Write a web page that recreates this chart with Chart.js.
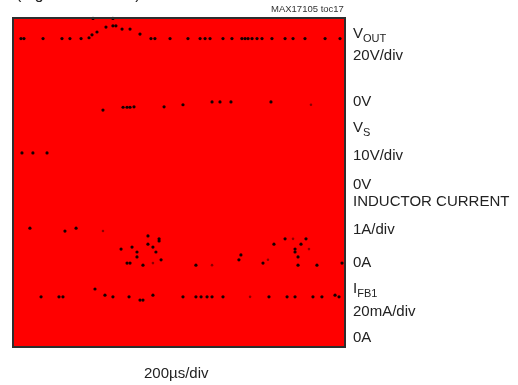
<!DOCTYPE html>
<html>
<head>
<meta charset="utf-8">
<script src="https://cdn.jsdelivr.net/npm/chart.js@4.4.1/dist/chart.umd.min.js"></script>
<style>
  html, body { margin: 0; padding: 0; background: #ffffff; }
  #wrap { position: relative; width: 518px; height: 385px; overflow: hidden; }
  canvas { position: absolute; left: 0; top: 0; }
  .lbl { position: absolute; font-family: "Liberation Sans", Arial, sans-serif; font-size: 15px;
         line-height: 17px; color: #222; white-space: nowrap; }
  .lbl sub { font-size: 11px; vertical-align: baseline; position: relative; top: 4px; }
  .small { font-size: 9.5px; line-height: 11px; color: #333; }
</style>
</head>
<body>
<div id="wrap">
  <canvas id="scope" width="518" height="385"></canvas>
  <div class="lbl" style="left:16px; top:-15px; font-size:16px;">(Figure 10 circuit)</div>
  <div class="lbl small" style="left:271px; top:3px;">MAX17105 toc17</div>

  <div class="lbl" style="left:353px; top:24px;">V<sub>OUT</sub></div>
  <div class="lbl" style="left:353px; top:46px;">20V/div</div>
  <div class="lbl" style="left:353px; top:92px;">0V</div>
  <div class="lbl" style="left:353px; top:118px;">V<sub>S</sub></div>
  <div class="lbl" style="left:353px; top:146px;">10V/div</div>
  <div class="lbl" style="left:353px; top:175px;">0V</div>
  <div class="lbl" style="left:353px; top:192px;">INDUCTOR CURRENT</div>
  <div class="lbl" style="left:353px; top:220px;">1A/div</div>
  <div class="lbl" style="left:353px; top:253px;">0A</div>
  <div class="lbl" style="left:353px; top:279px;">I<sub>FB1</sub></div>
  <div class="lbl" style="left:353px; top:302px;">20mA/div</div>
  <div class="lbl" style="left:353px; top:328px;">0A</div>

  <div class="lbl" style="left:144px; top:364px;">200µs/div</div>
</div>

<script>
// Time base: 200 µs/div over 10 divisions; vertical position in screen divisions (0..8)
const timeSpan = [0, 2000];
const divSpan = [0, 8];

// Sampled trace dots: [time µs, vertical divisions]
const voutPoints = [
  [48,7.5],[66,7.5],[181,7.5],[295,7.5],[343,7.5],[410,7.5],
  [458,7.52],[476,7.59],[506,7.66],[560,7.78],[602,7.81],[620,7.81],
  [657,7.73],[705,7.73],[765,7.61],
  [831,7.5],[855,7.5],[946,7.5],[1054,7.5],[1127,7.5],[1157,7.5],[1187,7.5],
  [1265,7.5],[1319,7.5],[1379,7.5],[1398,7.5],[1416,7.5],[1440,7.5],[1470,7.5],
  [1500,7.5],[1560,7.5],[1639,7.5],[1687,7.5],[1759,7.5],[1880,7.5],[1970,7.5],
  [482,7.99],[602,7.99]
];

const vsPoints = [
  [54,4.72],[120,4.72],[205,4.72],
  [542,5.76],[663,5.83],[687,5.83],[705,5.83],[729,5.84],[910,5.84],
  [1024,5.89],[1199,5.96],[1247,5.96],[1313,5.96],[1554,5.96]
];

const inductorPoints = [
  [102,2.89],[313,2.82],[380,2.89],
  [651,2.38],[717,2.43],[747,2.31],[747,2.19],[687,2.04],[705,2.04],[783,1.99],
  [813,2.70],[813,2.50],[843,2.43],[880,2.63],[880,2.58],[861,2.31],[892,2.12],
  [1102,1.99],[1361,2.12],[1373,2.24],[1506,2.04],
  [1572,2.50],[1639,2.63],[1699,2.38],[1699,2.31],[1717,2.19],[1717,1.99],
  [1735,2.50],[1765,2.63],[1831,1.99],[1982,2.04]
];

const ifb1Points = [
  [169,1.22],[277,1.22],[301,1.22],[494,1.41],[554,1.26],[602,1.22],[699,1.22],
  [765,1.14],[783,1.14],[843,1.26],[1024,1.22],[1102,1.22],[1133,1.22],[1169,1.22],
  [1199,1.22],[1265,1.22],[1542,1.22],[1651,1.22],[1699,1.22],[1807,1.22],
  [1861,1.22],[1940,1.26],[1964,1.22]
];

// Dim persistence dots
const dimPoints = [
  [1795,5.89],[542,2.82],[843,2.04],[1199,1.99],[1536,2.12],[1687,2.63],[1783,2.38],
  [1428,1.22],[765,7.61]
];

const toXY = pts => pts.map(p => ({ x: p[0], y: p[1] }));

const screenPlugin = {
  id: 'screen',
  beforeDatasetsDraw(chart) {
    const { ctx, chartArea: a } = chart;
    ctx.save();
    ctx.fillStyle = '#ff0000';
    ctx.fillRect(a.left, a.top, a.right - a.left, a.bottom - a.top);
    ctx.restore();
  },
  afterDatasetsDraw(chart) {
    const { ctx, chartArea: a } = chart;
    ctx.save();
    ctx.strokeStyle = '#2e2e2e';
    ctx.lineWidth = 2;
    ctx.strokeRect(a.left, a.top, a.right - a.left, a.bottom - a.top);
    ctx.restore();
  }
};

const dot = (data, color, r) => ({
  data: toXY(data),
  backgroundColor: color,
  borderColor: color,
  pointRadius: r,
  pointBorderWidth: 0,
  pointHoverRadius: r,
  clip: false
});

new Chart(document.getElementById('scope'), {
  type: 'scatter',
  data: {
    datasets: [
      dot(voutPoints, '#140000', 1.6),
      dot(vsPoints, '#140000', 1.6),
      dot(inductorPoints, '#140000', 1.6),
      dot(ifb1Points, '#140000', 1.6),
      dot(dimPoints, 'rgba(110,0,0,0.8)', 1.3)
    ]
  },
  options: {
    responsive: false,
    animation: false,
    events: [],
    layout: { padding: { left: 13, top: 18, right: 173, bottom: 38 } },
    plugins: { legend: { display: false }, tooltip: { enabled: false } },
    scales: {
      x: { type: 'linear', min: timeSpan[0], max: timeSpan[1], display: false },
      y: { type: 'linear', min: divSpan[0], max: divSpan[1], display: false }
    }
  },
  plugins: [screenPlugin]
});
</script>
</body>
</html>
